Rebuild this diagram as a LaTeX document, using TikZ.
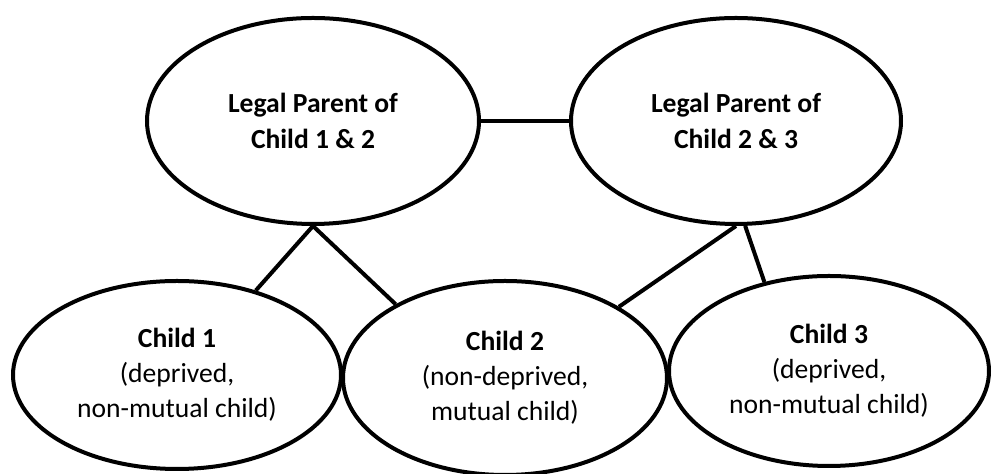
\documentclass[tikz,border=0pt]{standalone}
\usepackage{fontspec}
\setmainfont{Carlito}
\usetikzlibrary{shapes.geometric}

\begin{document}
\begin{tikzpicture}[x=0.5pt,y=-0.5pt]
\useasboundingbox (0,0) rectangle (992,474);
\begin{scope}[every node/.style={ellipse,line width=2pt,draw,inner sep=0pt,align=center,font=\fontsize{13.8}{17.6}\selectfont}]
\node[minimum width=332pt*0.5,minimum height=206pt*0.5] (p12) at (313,121) {\textbf{Legal Parent of}\\\textbf{Child 1 \& 2}};
\node[minimum width=330pt*0.5,minimum height=206pt*0.5] (p23) at (736,121) {\textbf{Legal Parent of}\\\textbf{Child 2 \& 3}};

\node[minimum width=328pt*0.5,minimum height=188pt*0.5] (c1) at (177,375) {\textbf{Child 1}\\(deprived,\\non-mutual child)};
\node[minimum width=324pt*0.5,minimum height=194pt*0.5] (c2) at (505,378) {\textbf{Child 2}\\(non-deprived,\\mutual child)};
\node[minimum width=320pt*0.5,minimum height=190pt*0.5] (c3) at (829,371) {\textbf{Child 3}\\(deprived,\\non-mutual child)};
\end{scope}

\draw[line width=2pt] (p12.east) -- (p23.west);

\draw[line width=2pt] (p12.south) -- (c1.47);
\draw[line width=2pt] (p12.south) -- (c2.146);

\draw[line width=2pt] (p23.south) -- (c2.32);
\draw[line width=2pt] (p23.275) -- (c3.126);
\end{tikzpicture}
\end{document}
